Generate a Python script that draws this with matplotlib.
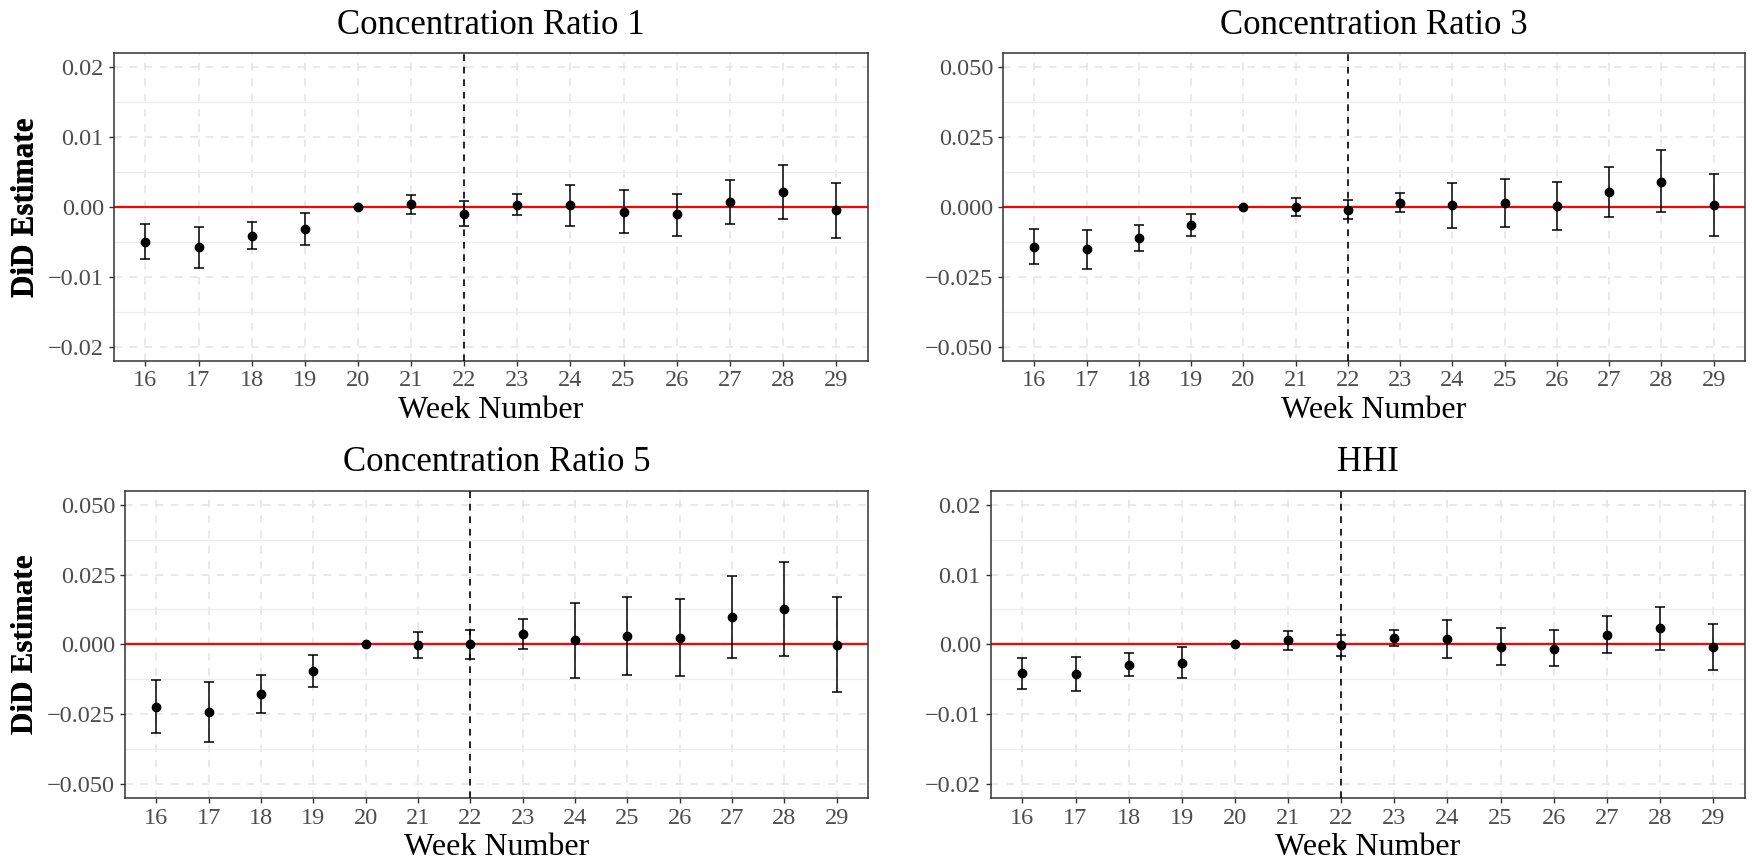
import matplotlib
matplotlib.use('Agg')
import matplotlib.pyplot as plt
from matplotlib.ticker import FuncFormatter
import numpy as np

plt.rcParams['font.family'] = ['Liberation Serif', 'DejaVu Serif']

weeks = [16, 17, 18, 19, 20, 21, 22, 23, 24, 25, 26, 27, 28, 29]

cr1_est = [-0.0050, -0.0058, -0.0041, -0.0032, 0.0, 0.0004, -0.0010, 0.0003, 0.0002, -0.0007, -0.0010, 0.0007, 0.0021, -0.0005]
cr1_lo = [-0.0075, -0.0087, -0.0060, -0.0054, 0.0, -0.0010, -0.0027, -0.0011, -0.0027, -0.0037, -0.0041, -0.0025, -0.0018, -0.0045]
cr1_hi = [-0.0024, -0.0029, -0.0022, -0.0009, 0.0, 0.0017, 0.0008, 0.0018, 0.0031, 0.0024, 0.0019, 0.0039, 0.0060, 0.0034]

cr3_est = [-0.0142, -0.0152, -0.0113, -0.0066, 0.0, -0.0002, -0.0011, 0.0015, 0.0006, 0.0013, 0.0004, 0.0052, 0.0090, 0.0008]
cr3_lo = [-0.0204, -0.0222, -0.0158, -0.0105, 0.0, -0.0032, -0.0045, -0.0020, -0.0077, -0.0072, -0.0083, -0.0037, -0.0020, -0.0103]
cr3_hi = [-0.0078, -0.0084, -0.0066, -0.0027, 0.0, 0.0031, 0.0026, 0.0051, 0.0086, 0.0100, 0.0089, 0.0141, 0.0203, 0.0117]

cr5_est = [-0.0224, -0.0243, -0.0179, -0.0095, 0.0, -0.0002, 0.0001, 0.0037, 0.0014, 0.0031, 0.0024, 0.0099, 0.0127, -0.0002]
cr5_lo = [-0.0319, -0.0348, -0.0245, -0.0152, 0.0, -0.0049, -0.0051, -0.0015, -0.0120, -0.0110, -0.0115, -0.0048, -0.0040, -0.0171]
cr5_hi = [-0.0127, -0.0136, -0.0111, -0.0037, 0.0, 0.0044, 0.0052, 0.0090, 0.0148, 0.0169, 0.0163, 0.0244, 0.0296, 0.0169]

hhi_est = [-0.0041, -0.0042, -0.0029, -0.0026, 0.0, 0.0006, -0.0001, 0.0009, 0.0008, -0.0004, -0.0006, 0.0014, 0.0023, -0.0004]
hhi_lo = [-0.0064, -0.0067, -0.0045, -0.0048, 0.0, -0.0008, -0.0016, -0.0002, -0.0019, -0.0029, -0.0031, -0.0013, -0.0008, -0.0037]
hhi_hi = [-0.0020, -0.0018, -0.0013, -0.0004, 0.0, 0.0019, 0.0014, 0.0020, 0.0035, 0.0023, 0.0021, 0.0041, 0.0054, 0.0029]

titles = ['Concentration Ratio 1', 'Concentration Ratio 3', 'Concentration Ratio 5', 'HHI']
limits = [0.02, 0.05, 0.05, 0.02]
decimals = [2, 3, 3, 2]

W, H = 1754, 864
# panel boxes in pixels: left, top, right, bottom
boxes = [(113.5, 53, 868, 360.7), (1003, 53, 1745, 360.7),
         (125, 490.7, 868, 798), (990.5, 490.7, 1745, 798)]
ylab_x = 26


def panel(fig, box, title, est, lo, hi, lim, dec):
    l, t, r, b = box
    ax = fig.add_axes([l / W, 1 - b / H, (r - l) / W, (b - t) / H])
    est = np.array(est)
    err = [est - np.array(lo), np.array(hi) - est]
    ax.axhline(0, color='red', lw=1.6, zorder=2)
    ax.axvline(22, color='black', lw=1.2, ls=(0, (4, 3.5)), zorder=3)
    ax.errorbar(weeks, est, yerr=err, fmt='o', color='black', ms=6,
                elinewidth=1.1, capsize=3.6, capthick=1.1, zorder=4)
    ax.set_xlim(15.4, 29.6)
    ax.set_ylim(-lim * 1.1, lim * 1.1)
    ax.set_xticks(weeks)
    ax.set_yticks(np.linspace(-lim, lim, 5))
    ax.set_yticks(np.linspace(-lim * 0.75, lim * 0.75, 4), minor=True)
    ax.yaxis.set_major_formatter(FuncFormatter(
        lambda v, p: ('%.' + str(dec) + 'f') % v if v >= -1e-9 else '\u2212' + ('%.' + str(dec) + 'f') % abs(v)))
    ax.grid(True, which='major', color='#E3E3E3', lw=1.1, ls=(0, (5, 5)), zorder=0)
    ax.grid(True, which='minor', axis='y', color='#EDEDED', lw=0.9, zorder=0)
    ax.set_axisbelow(True)
    ax.tick_params(axis='both', which='major', colors='#333333', labelcolor='#4D4D4D',
                   labelsize=17.5, length=3.5, width=1)
    ax.tick_params(axis='y', which='minor', length=0)
    for s in ax.spines.values():
        s.set_color('#333333')
        s.set_linewidth(1.1)
    ax.set_title(title, fontsize=25, pad=14)
    ax.set_xlabel('Week Number', fontsize=23, va='center')
    ax.xaxis.set_label_coords(0.5, -(49.5) / (b - t))
    ax.set_ylabel('DiD Estimate', fontsize=22.5, fontweight='bold', va='center')
    ax.yaxis.set_label_coords((ylab_x - l) / (r - l), 0.5)
    return ax


if __name__ == '__main__':
    fig = plt.figure(figsize=(W / 100, H / 100), dpi=100)
    data = [(cr1_est, cr1_lo, cr1_hi), (cr3_est, cr3_lo, cr3_hi),
            (cr5_est, cr5_lo, cr5_hi), (hhi_est, hhi_lo, hhi_hi)]
    for i in range(4):
        panel(fig, boxes[i], titles[i], data[i][0], data[i][1], data[i][2], limits[i], decimals[i])
    fig.savefig('out.png', dpi=100, facecolor='white')
